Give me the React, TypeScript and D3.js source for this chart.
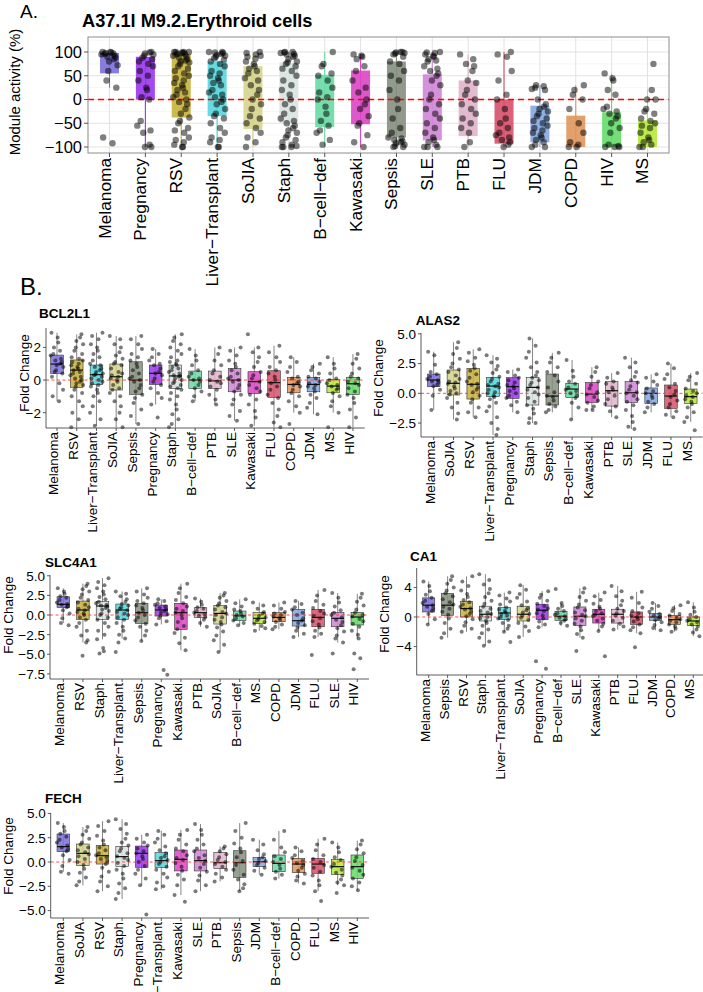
import React from 'react';
import * as d3 from 'd3';

const FONT = '"Liberation Sans", Arial, Helvetica, sans-serif';

// colour per disease (same mapping in every panel)
const diseaseColors: Record<string, string> = {
  'Melanoma': '#7b6fdc', 'Pregnancy': '#9a35ee', 'RSV': '#c8b23c', 'Liver−Transplant': '#55d6dc',
  'SoJIA': '#d5d48c', 'Staph': '#d8e3e0', 'B−cell−def': '#68d9a4', 'Kawasaki': '#dc46c4',
  'Sepsis': '#858f7e', 'SLE': '#cf86d6', 'PTB': '#e0b4cb', 'FLU': '#d6506a', 'JDM': '#84a6e0',
  'COPD': '#df965c', 'HIV': '#64dc68', 'MS': '#b6e83c',
};

// ---------- panel A : module activity ----------
const catsA = ['Melanoma', 'Pregnancy', 'RSV', 'Liver−Transplant', 'SoJIA', 'Staph', 'B−cell−def', 'Kawasaki',
  'Sepsis', 'SLE', 'PTB', 'FLU', 'JDM', 'COPD', 'HIV', 'MS'];
const aQ1 = [55, 0, -38, -35, -62, -50, -58, -52, -80, -86, -77, -93, -90, -100, -100, -100];
const aQ3 = [98, 90, 96, 80, 70, 78, 52, 61, 80, 53, 40, 0, -13, -34, -27, -44];
const aLo = [25, -100, -100, -100, -100, -100, -100, -100, -100, -100, -100, -100, -100, -100, -100, -100];
const aHi = [98, 90, 100, 100, 100, 100, 100, 95, 100, 100, 95, 100, 30, 30, 55, 21];
const aTicks = [-100, -50, 0, 50, 100];
const aMinor = [-75, -25, 25, 75, 125];
const aPts = [
  [100, 100, 99, 98, 97, 96, 95, 92, 90, 88, 85, 80, 72, 60, 40, 25, -80, -92],
  [100, 99, 97, 95, 92, 88, 85, 80, 75, 70, 60, 50, 40, 25, 20, 5, 0, -45, -55, -65, -70, -100, -95, -100],
  [100, 100, 100, 100, 99, 98, 97, 96, 95, 92, 90, 88, 85, 82, 80, 78, 75, 70, 65, 60, 55, 50, 45, 40, 35, 30, 25, 20, 15, 10, 5, 0, -5, -10, -20, -30, -38, -45, -50, -60, -65, -70, -80, -85, -90, -95, -100, -100],
  [100, 100, 99, 98, 96, 94, 92, 90, 87, 84, 80, 75, 70, 60, 55, 50, 45, 40, 35, 30, 20, 15, 10, 5, 0, -5, -10, -20, -30, -35, -40, -50, -60, -70, -80, -85, -90, -100, -100],
  [100, 98, 95, 92, 90, 86, 80, 75, 70, 65, 60, 55, 45, 40, 30, 20, 10, 0, -10, -20, -35, -40, -50, -60, -70, -80, -90, -100],
  [100, 100, 99, 98, 96, 95, 92, 90, 85, 80, 78, 75, 70, 65, 60, 50, 40, 30, 20, 10, 0, -10, -20, -30, -40, -45, -50, -55, -60, -65, -70, -75, -80, -85, -90, -95, -98, -100, -100, -100],
  [100, 75, 70, 55, 50, 40, 25, 15, 5, 0, -15, -30, -45, -55, -65, -70, -85, -95],
  [95, 92, 90, 85, 70, 60, 40, 25, 15, 0, -10, -20, -35, -50, -55, -75, -90, -100],
  [100, 100, 99, 98, 97, 95, 90, 80, 75, 60, 50, 40, 20, 0, -20, -40, -60, -70, -80, -82, -85, -88, -90, -92, -95, -98, -100, -100],
  [100, 99, 98, 95, 92, 90, 85, 82, 80, 70, 65, 60, 55, 50, 40, 30, 10, 0, -10, -20, -30, -40, -50, -60, -70, -80, -85, -90, -95, -100, -100, -100],
  [95, 85, 75, 70, 60, 40, 35, 20, 10, 0, -10, -20, -30, -40, -50, -60, -70, -90, -100],
  [100, 95, 90, 60, 40, 10, 0, -20, -40, -50, -60, -70, -75, -80, -85, -90, -95, -100],
  [30, 28, 25, 22, 20, 0, -10, -15, -20, -25, -30, -35, -40, -45, -50, -55, -60, -65, -70, -75, -80, -85, -90, -95, -100, -100],
  [30, 20, 10, 0, -20, -50, -70, -90, -95, -100, -100],
  [55, 45, 40, 20, 10, -15, -20, -25, -30, -35, -40, -50, -60, -70, -95, -98, -100, -100, -100],
  [75, 20, 0, 0, -20, -25, -30, -40, -45, -50, -55, -60, -70, -80, -85, -90, -95, -100, -100],
];

// ---------- panel B : genes ----------
const bclCats = ['Melanoma', 'RSV', 'Liver−Transplant', 'SoJIA', 'Sepsis', 'Pregnancy', 'Staph', 'B−cell−def',
  'PTB', 'SLE', 'Kawasaki', 'FLU', 'COPD', 'JDM', 'MS', 'HIV'];
const bclQ1 = [0.41, -0.45, -0.27, -0.61, -0.88, -0.27, -0.51, -0.51, -0.51, -0.72, -0.82, -1.06, -0.78, -0.72, -0.78, -0.88];
const bclMed = [0.98, 0.61, 0.33, 0.2, 0.0, 0.41, 0.25, 0.0, -0.05, 0.0, -0.1, -0.16, -0.27, -0.27, -0.37, -0.23];
const bclQ3 = [1.53, 1.23, 0.92, 0.98, 1.12, 0.92, 0.92, 0.55, 0.55, 0.7, 0.51, 0.57, 0.16, 0.16, 0.04, 0.16];
const bclLo = [-1.3, -2.9, -2.8, -2.9, -2.7, -1.5, -2.9, -1.3, -1.5, -2.5, -2.8, -2.9, -2.0, -2.1, -2.0, -2.9];
const bclHi = [2.9, 2.8, 2.9, 2.7, 2.7, 1.9, 2.8, 1.9, 2.0, 2.0, 2.0, 2.1, 1.4, 1.0, 1.4, 1.6];
const bclPts = [
  [2.9, 2.6, 2.3, 2.0, 1.8, 1.6, 1.5, 1.3, 1.2, 1.1, 1.0, 0.9, 0.8, 0.6, 0.5, 0.4, 0.2, -0.2, -0.6, -1.0, -1.3],
  [2.8, 2.6, 2.4, 2.2, 2.0, 1.8, 1.6, 1.4, 1.3, 1.2, 1.1, 1.0, 0.9, 0.8, 0.7, 0.6, 0.5, 0.4, 0.3, 0.2, 0.1, 0, -0.1, -0.2, -0.3, -0.4, -0.6, -0.8, -1.0, -1.3, -1.6, -2.0, -2.4, -2.9],
  [2.9, 2.7, 2.5, 2.2, 2.0, 1.8, 1.6, 1.4, 1.2, 1.0, 0.9, 0.8, 0.7, 0.6, 0.5, 0.4, 0.35, 0.3, 0.2, 0.1, 0, -0.1, -0.2, -0.3, -0.4, -0.6, -0.8, -1.0, -1.3, -1.6, -2.0, -2.4, -2.8],
  [2.7, 2.5, 2.2, 2.0, 1.7, 1.5, 1.3, 1.1, 1.0, 0.9, 0.7, 0.5, 0.4, 0.3, 0.2, 0.1, 0, -0.1, -0.3, -0.5, -0.6, -0.8, -1.0, -1.3, -1.6, -2.0, -2.4, -2.9],
  [2.7, 2.5, 2.2, 1.9, 1.6, 1.4, 1.2, 1.0, 0.8, 0.6, 0.4, 0.2, 0.1, 0, -0.1, -0.3, -0.5, -0.7, -0.9, -1.1, -1.4, -1.8, -2.2, -2.7],
  [1.9, 1.6, 1.4, 1.2, 1.0, 0.9, 0.7, 0.5, 0.4, 0.3, 0.1, -0.1, -0.3, -0.5, -0.8, -1.1, -1.5, -2.3],
  [2.8, 2.6, 2.4, 2.2, 2.0, 1.8, 1.6, 1.4, 1.2, 1.1, 1.0, 0.9, 0.8, 0.7, 0.6, 0.5, 0.4, 0.3, 0.25, 0.2, 0.1, 0, -0.1, -0.2, -0.3, -0.4, -0.5, -0.6, -0.8, -1.0, -1.2, -1.5, -1.8, -2.1, -2.4, -2.7, -2.9],
  [1.9, 1.5, 1.2, 0.9, 0.6, 0.4, 0.2, 0.1, 0, -0.1, -0.3, -0.5, -0.7, -1.0, -1.3],
  [2.0, 1.6, 1.2, 0.9, 0.6, 0.4, 0.2, 0, -0.1, -0.2, -0.4, -0.6, -0.9, -1.2, -1.5],
  [2.0, 1.8, 1.5, 1.2, 1.0, 0.8, 0.6, 0.4, 0.2, 0.1, 0, -0.1, -0.3, -0.5, -0.7, -0.9, -1.2, -1.5, -1.9, -2.2, -2.5],
  [2.8, 2.0, 1.7, 1.4, 1.1, 0.8, 0.5, 0.3, 0.1, -0.1, -0.3, -0.5, -0.7, -0.9, -1.2, -1.5, -1.9, -2.3, -2.8],
  [2.1, 1.7, 1.4, 1.1, 0.8, 0.6, 0.4, 0.2, 0, -0.2, -0.4, -0.6, -0.9, -1.1, -1.4, -1.8, -2.2, -2.6, -2.9],
  [1.4, 1.1, 0.8, 0.5, 0.2, 0.1, -0.1, -0.2, -0.3, -0.4, -0.6, -0.8, -1.0, -1.3, -1.6, -2.0, -2.7],
  [1.0, 0.8, 0.6, 0.4, 0.2, 0.1, -0.1, -0.2, -0.3, -0.4, -0.5, -0.7, -0.9, -1.1, -1.4, -1.7, -2.1],
  [1.4, 1.0, 0.7, 0.4, 0.1, 0, -0.2, -0.3, -0.4, -0.5, -0.6, -0.8, -1.0, -1.3, -1.6, -2.0, -2.9],
  [1.6, 1.3, 1.0, 0.7, 0.4, 0.2, 0.1, -0.1, -0.2, -0.3, -0.5, -0.7, -0.9, -1.1, -1.4, -1.8, -2.3, -2.9],
];

const alasCats = ['Melanoma', 'SoJIA', 'RSV', 'Liver−Transplant', 'Pregnancy', 'Staph', 'Sepsis', 'B−cell−def',
  'Kawasaki', 'PTB', 'SLE', 'JDM', 'FLU', 'MS'];
const alasQ1 = [0.56, -0.14, -0.48, -0.28, -0.42, -0.98, -0.98, -0.34, -0.76, -1.07, -0.76, -0.84, -1.26, -0.84];
const alasMed = [1.12, 0.84, 0.76, 0.61, 0.56, 0.5, -0.23, 0.36, -0.06, 0.22, 0.05, 0.0, -0.23, -0.28];
const alasQ3 = [1.62, 1.96, 2.1, 1.34, 1.32, 1.34, 1.62, 0.84, 0.92, 0.98, 0.98, 0.45, 0.7, 0.36];
const alasLo = [-1.4, -2.2, -2.0, -3.5, -1.6, -2.5, -1.6, -2.2, -1.4, -2.0, -3.0, -1.6, -2.0, -2.4];
const alasHi = [3.5, 4.3, 3.7, 3.2, 2.0, 4.6, 3.4, 2.8, 2.2, 1.7, 3.0, 1.6, 2.5, 1.7];
const alasPts = [
  [3.5, 3.2, 2.4, 1.8, 1.6, 1.4, 1.2, 1.1, 1.0, 0.9, 0.7, 0.6, 0.3, -0.2, -1.4],
  [4.3, 3.8, 3.3, 2.9, 2.5, 2.2, 2.0, 1.8, 1.5, 1.2, 1.0, 0.9, 0.8, 0.6, 0.4, 0.2, 0, -0.1, -0.4, -0.8, -1.2, -1.7, -2.2],
  [3.7, 3.4, 3.0, 2.7, 2.4, 2.1, 1.9, 1.6, 1.3, 1.0, 0.8, 0.7, 0.5, 0.3, 0.1, -0.2, -0.5, -0.8, -1.2, -1.6, -2.0],
  [3.2, 2.9, 2.6, 2.3, 2.0, 1.7, 1.4, 1.2, 1.0, 0.8, 0.7, 0.6, 0.5, 0.3, 0.1, 0, -0.2, -0.3, -0.5, -0.8, -1.1, -1.5, -2.0, -2.5, -3.0, -3.5],
  [2.0, 1.8, 1.5, 1.3, 1.1, 0.9, 0.7, 0.6, 0.4, 0.2, 0, -0.2, -0.4, -0.7, -1.0, -1.6],
  [4.6, 4.0, 3.5, 3.0, 2.6, 2.2, 1.8, 1.5, 1.3, 1.1, 0.9, 0.7, 0.5, 0.3, 0.1, -0.1, -0.4, -0.7, -1.0, -1.3, -1.7, -2.1, -2.5, -2.5],
  [3.4, 3.0, 2.6, 2.2, 1.8, 1.5, 1.0, 0.5, 0.1, -0.2, -0.3, -0.6, -0.9, -1.1, -1.4, -1.6],
  [2.8, 1.9, 1.4, 1.0, 0.8, 0.5, 0.3, 0.2, 0, -0.2, -0.4, -0.8, -1.2, -2.2],
  [2.2, 1.8, 1.4, 1.0, 0.7, 0.4, 0.1, -0.1, -0.3, -0.6, -0.8, -1.1, -1.4, -1.4],
  [1.7, 1.3, 1.0, 0.8, 0.5, 0.3, 0.1, -0.2, -0.5, -0.9, -1.1, -1.5, -2.0],
  [3.0, 2.6, 2.2, 1.8, 1.4, 1.1, 0.9, 0.6, 0.3, 0.1, 0, -0.2, -0.5, -0.7, -1.0, -1.4, -1.9, -2.4, -2.8, -3.0],
  [1.6, 1.3, 1.0, 0.7, 0.4, 0.2, 0, -0.2, -0.4, -0.7, -0.9, -1.2, -1.6],
  [2.5, 2.1, 1.6, 1.2, 0.8, 0.5, 0.2, -0.1, -0.3, -0.6, -0.9, -1.2, -1.5, -1.8, -2.0],
  [1.7, 1.4, 1.1, 0.8, 0.4, 0.2, 0, -0.2, -0.3, -0.5, -0.7, -0.9, -1.2, -1.6, -2.0, -2.4, -3.1],
];

const slcCats = ['Melanoma', 'RSV', 'Staph', 'Liver−Transplant', 'Sepsis', 'Pregnancy', 'Kawasaki', 'PTB',
  'SoJIA', 'B−cell−def', 'MS', 'COPD', 'JDM', 'FLU', 'SLE', 'HIV'];
const slcQ1 = [0.98, -0.55, -0.55, -0.55, -1.06, -0.13, -1.82, -0.3, -1.15, -0.72, -1.06, -0.85, -1.4, -1.49, -1.49, -1.27];
const slcMed = [1.36, 0.64, 1.15, 0.64, 0.3, 0.64, 0.3, 0.3, 0.21, -0.1, -0.42, -0.3, -0.72, -0.3, -0.42, -0.25];
const slcQ3 = [2.33, 1.78, 1.7, 1.4, 1.49, 1.27, 1.49, 0.93, 1.19, 0.51, 0.3, 0.3, 0.72, 0.72, 0.34, 0.34];
const slcLo = [-1.0, -3.5, -3.1, -3.0, -3.3, -1.2, -4.5, -1.5, -4.7, -1.3, -2.0, -1.8, -2.8, -2.8, -3.5, -3.0];
const slcHi = [3.4, 4.0, 4.7, 3.0, 3.4, 2.0, 4.0, 2.1, 2.8, 2.0, 1.6, 1.6, 1.8, 3.2, 2.8, 2.7];
const slcPts = [
  [3.4, 3.0, 2.7, 2.4, 2.2, 1.9, 1.6, 1.4, 1.3, 1.1, 1.0, 0.6, 0.2, -0.4, -1.0, -1.3],
  [4.0, 3.7, 3.3, 3.0, 2.6, 2.2, 1.9, 1.6, 1.3, 1.0, 0.8, 0.6, 0.4, 0.2, 0, -0.3, -0.6, -1.0, -1.5, -2.0, -2.6, -3.2, -3.5, -5.2],
  [4.7, 4.2, 3.8, 3.4, 3.0, 2.6, 2.3, 2.0, 1.7, 1.5, 1.3, 1.2, 1.1, 0.9, 0.7, 0.5, 0.2, 0, -0.3, -0.6, -1.0, -1.5, -2.0, -2.5, -3.1, -4.2, -4.6, -4.9],
  [3.0, 2.7, 2.4, 2.0, 1.7, 1.4, 1.2, 1.0, 0.8, 0.6, 0.4, 0.2, 0, -0.3, -0.6, -1.0, -1.5, -2.0, -2.5, -3.0, -3.5, -4.7],
  [3.4, 3.0, 2.6, 2.2, 1.8, 1.5, 1.2, 0.9, 0.6, 0.3, 0, -0.3, -0.7, -1.1, -1.5, -2.0, -2.6, -3.3],
  [2.0, 1.8, 1.5, 1.3, 1.1, 0.9, 0.7, 0.5, 0.3, 0.1, -0.1, -0.4, -0.8, -1.2, -7.0, -7.6],
  [4.0, 3.4, 2.8, 2.3, 1.9, 1.5, 1.1, 0.8, 0.5, 0.3, 0, -0.4, -0.9, -1.4, -1.8, -2.3, -2.9, -3.6, -4.5],
  [2.1, 1.7, 1.3, 1.0, 0.8, 0.5, 0.3, 0.1, -0.1, -0.3, -0.6, -1.0, -1.5],
  [2.8, 2.5, 2.2, 1.8, 1.5, 1.2, 1.0, 0.7, 0.4, 0.2, 0, -0.3, -0.6, -0.9, -1.2, -1.6, -2.1, -2.6, -3.2, -3.8, -4.7],
  [2.0, 1.5, 1.1, 0.7, 0.5, 0.2, 0, -0.2, -0.4, -0.7, -1.0, -1.3],
  [1.6, 1.2, 0.8, 0.4, 0.2, -0.1, -0.3, -0.5, -0.7, -0.9, -1.1, -1.4, -1.7, -2.0],
  [1.6, 1.2, 0.8, 0.4, 0.2, 0, -0.2, -0.4, -0.6, -0.9, -1.2, -1.5, -1.8],
  [1.8, 1.4, 1.0, 0.7, 0.3, 0, -0.4, -0.7, -1.0, -1.3, -1.6, -2.0, -2.4, -2.8],
  [3.2, 2.5, 1.8, 1.3, 0.9, 0.5, 0.2, -0.1, -0.4, -0.8, -1.2, -1.6, -2.0, -2.4, -2.8, -5.1],
  [2.8, 2.2, 1.6, 1.1, 0.6, 0.3, 0, -0.3, -0.6, -0.9, -1.3, -1.7, -2.1, -2.6, -3.0, -3.5, -4.9],
  [2.7, 2.2, 1.7, 1.2, 0.7, 0.3, 0, -0.2, -0.5, -0.8, -1.1, -1.5, -2.0, -2.5, -3.0, -4.9, -5.5, -6.9],
];

const ca1Cats = ['Melanoma', 'Sepsis', 'RSV', 'Staph', 'Liver−Transplant', 'SoJIA', 'Pregnancy', 'B−cell−def',
  'SLE', 'Kawasaki', 'PTB', 'FLU', 'JDM', 'COPD', 'MS'];
const ca1Q1 = [0.68, 0.23, 0.0, -0.54, -0.36, -0.54, -0.36, -0.45, -1.13, -0.82, -0.82, -1.0, -0.45, -1.0, -1.13];
const ca1Med = [1.6, 1.6, 1.14, 0.37, 0.54, 0.37, 0.91, 0.1, 0.1, 0.37, 0.37, 0.0, 0.0, -0.36, -0.54];
const ca1Q3 = [2.59, 3.18, 2.13, 1.46, 1.28, 1.46, 1.73, 0.78, 1.36, 1.05, 1.05, 0.68, 0.46, 0.23, 0.0];
const ca1Lo = [-1.0, -2.8, -2.0, -3.9, -2.0, -2.7, -1.4, -1.2, -2.8, -1.9, -1.7, -2.2, -1.8, -2.0, -2.6];
const ca1Hi = [4.8, 5.5, 5.5, 5.8, 3.3, 4.3, 3.5, 1.9, 3.9, 3.3, 4.2, 3.4, 1.9, 1.6, 2.0];
const ca1Pts = [
  [4.8, 4.2, 3.5, 3.0, 2.6, 2.2, 1.9, 1.6, 1.4, 1.1, 0.8, 0.4, -0.3, -1.0],
  [5.5, 5.0, 4.5, 4.0, 3.6, 3.2, 2.8, 2.4, 2.0, 1.7, 1.4, 1.1, 0.7, 0.3, -0.2, -0.8, -1.6, -2.2, -2.8],
  [5.5, 4.8, 4.2, 3.6, 3.1, 2.7, 2.3, 2.0, 1.7, 1.4, 1.2, 1.0, 0.7, 0.4, 0.1, -0.3, -0.7, -1.2, -1.6, -2.0],
  [5.8, 5.0, 4.4, 3.8, 3.2, 2.7, 2.2, 1.8, 1.4, 1.1, 0.8, 0.6, 0.4, 0.2, 0, -0.2, -0.5, -0.8, -1.2, -1.7, -2.2, -2.8, -3.3, -3.9],
  [3.3, 2.9, 2.5, 2.1, 1.7, 1.3, 1.0, 0.8, 0.6, 0.4, 0.2, 0, -0.2, -0.4, -0.8, -1.2, -1.6, -2.0, -3.4],
  [4.3, 3.7, 3.1, 2.6, 2.1, 1.6, 1.2, 0.9, 0.6, 0.4, 0.2, -0.1, -0.4, -0.8, -1.3, -1.9, -2.7],
  [3.5, 3.0, 2.6, 2.2, 1.8, 1.5, 1.2, 1.0, 0.8, 0.5, 0.2, -0.2, -0.6, -1.0, -1.4, -6.0, -7.0],
  [3.8, 1.9, 1.5, 1.1, 0.8, 0.5, 0.3, 0.1, -0.1, -0.3, -0.5, -0.8, -1.2],
  [3.9, 3.3, 2.7, 2.2, 1.7, 1.3, 0.9, 0.6, 0.3, 0.1, -0.2, -0.5, -0.9, -1.3, -1.8, -2.3, -2.8, -4.6],
  [3.3, 2.8, 2.3, 1.8, 1.4, 1.1, 0.8, 0.5, 0.3, 0.1, -0.2, -0.5, -0.9, -1.3, -1.9, -5.3],
  [4.2, 3.5, 2.8, 2.2, 1.6, 1.1, 0.8, 0.5, 0.2, -0.1, -0.5, -0.9, -1.3, -1.7],
  [3.4, 2.6, 1.9, 1.3, 0.8, 0.5, 0.2, 0, -0.3, -0.6, -1.0, -1.4, -1.8, -2.2, -4.1],
  [1.9, 1.5, 1.1, 0.7, 0.4, 0.2, 0, -0.2, -0.4, -0.7, -1.1, -1.5, -1.8],
  [1.6, 1.2, 0.8, 0.4, 0.2, -0.1, -0.3, -0.5, -0.7, -1.0, -1.3, -1.6, -2.0],
  [2.0, 1.3, 0.7, 0.3, 0, -0.3, -0.5, -0.7, -1.0, -1.3, -1.7, -2.1, -2.6],
];

const fechCats = ['Melanoma', 'SoJIA', 'RSV', 'Staph', 'Pregnancy', 'Liver−Transplant', 'Kawasaki', 'SLE',
  'PTB', 'Sepsis', 'JDM', 'B−cell−def', 'COPD', 'FLU', 'MS', 'HIV'];
const fechQ1 = [1.06, -0.38, -0.21, -0.48, -0.55, -0.55, -0.92, -0.92, -0.65, -1.58, -0.48, -1.0, -1.1, -1.16, -1.27, -1.68];
const fechMed = [1.58, 0.89, 0.65, 0.55, 0.89, 0.14, 0.27, 0.14, -0.07, -0.07, 0.03, -0.14, -0.21, -0.21, -0.48, -0.48];
const fechQ3 = [2.88, 1.85, 1.68, 1.58, 1.64, 0.96, 1.23, 1.23, 1.0, 1.16, 0.45, 0.72, 0.38, 0.38, 0.27, 0.72];
const fechLo = [-1.0, -2.4, -3.0, -3.8, -2.4, -2.8, -3.4, -3.0, -2.0, -3.0, -1.3, -1.7, -2.2, -3.0, -2.4, -2.9];
const fechHi = [4.0, 3.6, 4.2, 4.4, 2.8, 3.2, 3.3, 3.9, 1.6, 4.0, 2.3, 3.2, 1.5, 2.4, 2.0, 2.2];
const fechPts = [
  [4.0, 3.6, 3.2, 2.9, 2.6, 2.3, 2.0, 1.7, 1.5, 1.3, 1.1, 0.7, 0.2, -0.4, -1.0, -1.2],
  [3.6, 3.2, 2.8, 2.4, 2.0, 1.8, 1.5, 1.2, 1.0, 0.8, 0.6, 0.3, 0, -0.3, -0.7, -1.1, -1.6, -2.0, -2.4],
  [4.2, 3.7, 3.2, 2.7, 2.2, 1.8, 1.5, 1.2, 0.9, 0.7, 0.5, 0.3, 0.1, -0.2, -0.6, -1.0, -1.5, -2.0, -2.5, -3.0],
  [4.4, 3.9, 3.4, 2.9, 2.4, 2.0, 1.7, 1.4, 1.1, 0.9, 0.6, 0.4, 0.2, -0.1, -0.4, -0.8, -1.2, -1.7, -2.2, -2.7, -3.2, -3.8],
  [2.8, 2.4, 2.0, 1.7, 1.4, 1.1, 0.9, 0.6, 0.3, 0, -0.4, -0.8, -1.2, -1.7, -2.4, -5.4],
  [3.2, 2.8, 2.4, 2.0, 1.6, 1.2, 0.9, 0.6, 0.4, 0.2, 0, -0.2, -0.5, -0.8, -1.2, -1.6, -2.1, -2.5, -2.8],
  [3.3, 2.8, 2.3, 1.8, 1.4, 1.1, 0.7, 0.4, 0.2, -0.1, -0.5, -0.9, -1.3, -1.8, -2.4, -3.4, -4.1],
  [3.9, 3.3, 2.8, 2.3, 1.8, 1.4, 1.1, 0.7, 0.4, 0.1, -0.2, -0.6, -1.0, -1.4, -1.9, -2.4, -3.0],
  [1.6, 1.4, 1.1, 0.8, 0.5, 0.2, 0, -0.2, -0.5, -0.8, -1.2, -1.6, -2.0],
  [4.0, 3.2, 2.5, 1.9, 1.4, 1.0, 0.5, 0.1, -0.3, -0.8, -1.3, -1.8, -2.3, -2.7, -3.0],
  [2.3, 1.8, 1.2, 0.8, 0.5, 0.3, 0.1, -0.1, -0.3, -0.6, -0.9, -1.3],
  [3.2, 2.3, 1.5, 1.0, 0.6, 0.3, 0, -0.3, -0.7, -1.0, -1.3, -1.7],
  [1.5, 1.1, 0.7, 0.4, 0.1, -0.1, -0.3, -0.6, -0.9, -1.2, -1.5, -1.9, -2.2],
  [2.4, 1.8, 1.2, 0.7, 0.3, 0, -0.3, -0.6, -1.0, -1.4, -1.9, -2.4, -3.0, -4.0],
  [2.0, 1.5, 1.0, 0.5, 0.2, -0.2, -0.5, -0.8, -1.1, -1.4, -1.8, -2.1, -2.4, -3.2],
  [2.2, 1.8, 1.3, 0.9, 0.5, 0.1, -0.3, -0.6, -0.9, -1.3, -1.7, -2.1, -2.5, -2.9],
];

// horizontal jitter pattern (fraction of half-width), positions only
const JIT = [-0.82, 0.35, -0.15, 0.7, -0.55, 0.1, 0.9, -0.35, 0.5, -0.95, 0.2, -0.65, 0.8, -0.05, 0.6, -0.45, 0.3, -0.75, 0.95, -0.25, 0.45];
const jit = (k: number, i: number) => JIT[(i * 5 + k * 3) % JIT.length];

type GeneData = { title: string; cats: string[]; q1: number[]; med: number[]; q3: number[]; lo: number[]; hi: number[]; pts: number[][] };
type Geo = { axisX: number; first: number; step: number; top: number; bottom: number; dom: [number, number]; ticks: number[]; fmt: string; titleX: number; titleY: number; labX: number; labY: number };

const genes: { d: GeneData; g: Geo }[] = [
  { d: { title: 'BCL2L1', cats: bclCats, q1: bclQ1, med: bclMed, q3: bclQ3, lo: bclLo, hi: bclHi, pts: bclPts },
    g: { axisX: 46, first: 57, step: 19.73, top: 328, bottom: 428, dom: [-2.94, 3.19], ticks: [-2, 0, 2], fmt: 'd', titleX: 39, titleY: 318, labX: 29, labY: 373 } },
  { d: { title: 'ALAS2', cats: alasCats, q1: alasQ1, med: alasMed, q3: alasQ3, lo: alasLo, hi: alasHi, pts: alasPts },
    g: { axisX: 421, first: 433.7, step: 19.77, top: 333, bottom: 437, dom: [-3.67, 5.07], ticks: [-2.5, 0, 2.5, 5], fmt: '.1f', titleX: 415.7, titleY: 325, labX: 383, labY: 378 } },
  { d: { title: 'SLC4A1', cats: slcCats, q1: slcQ1, med: slcMed, q3: slcQ3, lo: slcLo, hi: slcHi, pts: slcPts },
    g: { axisX: 50, first: 63.3, step: 19.6, top: 575, bottom: 679, dom: [-8.15, 5.1], ticks: [-7.5, -5, -2.5, 0, 2.5, 5], fmt: '.1f', titleX: 45, titleY: 567, labX: 13, labY: 615 } },
  { d: { title: 'CA1', cats: ca1Cats, q1: ca1Q1, med: ca1Med, q3: ca1Q3, lo: ca1Lo, hi: ca1Hi, pts: ca1Pts },
    g: { axisX: 416.7, first: 428.7, step: 18.9, top: 568, bottom: 675, dom: [-7.85, 6.63], ticks: [-4, 0, 4], fmt: 'd', titleX: 410, titleY: 561, labX: 389, labY: 614 } },
  { d: { title: 'FECH', cats: fechCats, q1: fechQ1, med: fechMed, q3: fechQ3, lo: fechLo, hi: fechHi, pts: fechPts },
    g: { axisX: 50.7, first: 63.3, step: 19.6, top: 813, bottom: 918, dom: [-5.76, 5.04], ticks: [-5, -2.5, 0, 2.5, 5], fmt: '.1f', titleX: 45, titleY: 803, labX: 13, labY: 856 } },
];

function PanelA() {
  const left = 88, right = 669, top = 37, bottom = 153;
  const step = (right - left) / (catsA.length - 1 + 1.2);
  const x = d3.scalePoint<string>().domain(catsA).range([left + 0.6 * step, right - 0.6 * step]);
  const y = d3.scaleLinear().domain([-112.6, 131.6]).range([bottom, top]);
  const bw = 19;
  return (
    <g>
      <text x={20} y={18} fontSize={19} fontFamily={FONT}>A.</text>
      <text x={82} y={26.5} fontSize={18.2} fontWeight="bold" fontFamily={FONT}>A37.1l M9.2.Erythroid cells</text>
      <rect x={left} y={top} width={right - left} height={bottom - top} fill="#fff" />
      {aMinor.map(v => <line key={'mi' + v} x1={left} x2={right} y1={y(v)} y2={y(v)} stroke="#f1f1f1" strokeWidth={0.7} />)}
      {aTicks.map(v => <line key={'ma' + v} x1={left} x2={right} y1={y(v)} y2={y(v)} stroke="#e2e2e2" strokeWidth={1} />)}
      {catsA.map(c => <line key={'vg' + c} x1={x(c)!} x2={x(c)!} y1={top} y2={bottom} stroke="#e2e2e2" strokeWidth={1} />)}
      {catsA.map((c, i) => (
        <g key={'bx' + c}>
          <line x1={x(c)!} x2={x(c)!} y1={y(aLo[i])} y2={y(aHi[i])} stroke={diseaseColors[c]} strokeWidth={1.1} />
          <rect x={x(c)! - bw / 2} y={y(aQ3[i])} width={bw} height={y(aQ1[i]) - y(aQ3[i])} fill={diseaseColors[c]} fillOpacity={0.9} />
        </g>
      ))}
      <line x1={left} x2={right} y1={y(0)} y2={y(0)} stroke="#ff0000" strokeWidth={1.6} strokeDasharray="6,4" />
      {catsA.map((c, k) => aPts[k].map((v, i) => (
        <circle key={c + i} cx={x(c)! + jit(k, i) * 8.5} cy={y(v)} r={3.2} fill="#000" fillOpacity={0.5} />
      )))}
      <rect x={left} y={top} width={right - left} height={bottom - top} fill="none" stroke="#8c8c8c" strokeWidth={1} />
      {aTicks.map(v => (
        <g key={'yt' + v}>
          <line x1={left - 4} x2={left} y1={y(v)} y2={y(v)} stroke="#555" />
          <text x={left - 6} y={y(v)} dy="0.36em" textAnchor="end" fontSize={16.5} fontFamily={FONT}>{d3.format('d')(v)}</text>
        </g>
      ))}
      {catsA.map(c => (
        <g key={'xt' + c}>
          <line x1={x(c)!} x2={x(c)!} y1={bottom} y2={bottom + 4} stroke="#555" />
          <text transform={`translate(${x(c)! + 1},${bottom + 5}) rotate(-90)`} textAnchor="end" fontSize={17.3} fontFamily={FONT}>{c}</text>
        </g>
      ))}
      <text transform={`translate(20,92) rotate(-90)`} textAnchor="middle" fontSize={15} fontFamily={FONT}>Module activity (%)</text>
    </g>
  );
}

function GenePanel({ d, g }: { d: GeneData; g: Geo }) {
  const n = d.cats.length;
  const x = d3.scalePoint<string>().domain(d.cats).range([g.first, g.first + g.step * (n - 1)]);
  const y = d3.scaleLinear().domain(g.dom).range([g.bottom, g.top]);
  const right = Math.min(g.first + g.step * (n - 1) + 0.6 * g.step, 703);
  const bw = g.step * 0.64;
  const fmt = d3.format(g.fmt);
  return (
    <g>
      <text x={g.titleX} y={g.titleY} fontSize={13.5} fontWeight="bold" fontFamily={FONT}>{d.title}</text>
      {d.cats.map((c, i) => (
        <g key={'b' + c}>
          <line x1={x(c)!} x2={x(c)!} y1={y(d.lo[i])} y2={y(d.hi[i])} stroke="#333" strokeWidth={0.6} />
          <rect x={x(c)! - bw / 2} y={y(d.q3[i])} width={bw} height={y(d.q1[i]) - y(d.q3[i])}
            fill={diseaseColors[c]} fillOpacity={0.85} stroke="#333" strokeWidth={0.6} />
          <line x1={x(c)! - bw / 2} x2={x(c)! + bw / 2} y1={y(d.med[i])} y2={y(d.med[i])} stroke="#111" strokeWidth={1.2} />
        </g>
      ))}
      <line x1={g.axisX} x2={right} y1={y(0)} y2={y(0)} stroke="#ff3b3b" strokeWidth={0.9} strokeDasharray="3,2.5" />
      {d.cats.map((c, k) => d.pts[k].map((v, i) => (
        <circle key={c + i} cx={x(c)! + jit(k, i) * g.step * 0.34} cy={y(v)} r={2} fill="#000" fillOpacity={0.52} />
      )))}
      <line x1={g.axisX} x2={g.axisX} y1={g.top} y2={g.bottom} stroke="#333" strokeWidth={0.8} />
      <line x1={g.axisX} x2={right} y1={g.bottom} y2={g.bottom} stroke="#333" strokeWidth={0.8} />
      {g.ticks.map(v => (
        <g key={'t' + v}>
          <line x1={g.axisX - 3} x2={g.axisX} y1={y(v)} y2={y(v)} stroke="#333" strokeWidth={0.8} />
          <text x={g.axisX - 5} y={y(v)} dy="0.36em" textAnchor="end" fontSize={13.5} fontFamily={FONT}>{fmt(v)}</text>
        </g>
      ))}
      {d.cats.map(c => (
        <g key={'x' + c}>
          <line x1={x(c)!} x2={x(c)!} y1={g.bottom} y2={g.bottom + 3} stroke="#333" strokeWidth={0.8} />
          <text transform={`translate(${x(c)! + 1},${g.bottom + 4}) rotate(-90)`} textAnchor="end" fontSize={13.5} fontFamily={FONT}>{c}</text>
        </g>
      ))}
      <text transform={`translate(${g.labX},${g.labY}) rotate(-90)`} textAnchor="middle" fontSize={13.5} fontFamily={FONT}>Fold Change</text>
    </g>
  );
}

export default function App() {
  return (
    <svg width={703} height={992} style={{ position: 'absolute', left: 0, top: 0, background: '#fff' }}>
      <rect width={703} height={992} fill="#fff" />
      <PanelA />
      <text x={20} y={295} fontSize={24} fontFamily={FONT}>B.</text>
      {genes.map(({ d, g }) => <GenePanel key={d.title} d={d} g={g} />)}
    </svg>
  );
}
